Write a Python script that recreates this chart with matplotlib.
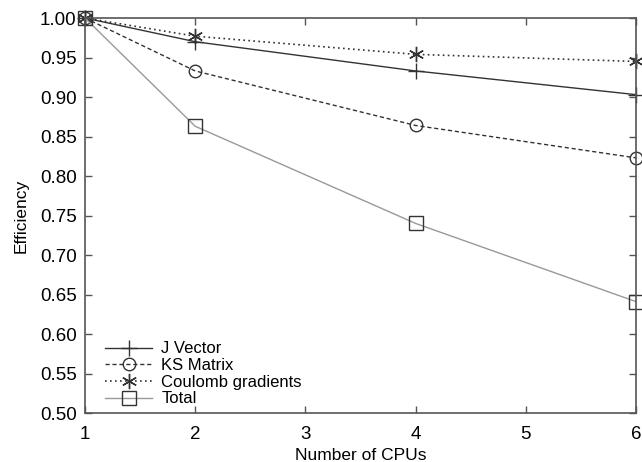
import matplotlib
matplotlib.use("Agg")
import matplotlib.pyplot as plt

plt.rcParams['font.family'] = ['Liberation Sans', 'DejaVu Sans']

cpus = [1, 2, 4, 6]
j_vector = [1.0, 0.970, 0.933, 0.903]
ks_matrix = [1.0, 0.933, 0.864, 0.823]
coulomb = [1.0, 0.977, 0.954, 0.945]
total = [1.0, 0.863, 0.740, 0.641]

x_ticks = [1, 2, 3, 4, 5, 6]
y_ticks = [0.50, 0.55, 0.60, 0.65, 0.70, 0.75, 0.80, 0.85, 0.90, 0.95, 1.00]

fig = plt.figure(figsize=(6.42, 4.62), dpi=100)
ax = fig.add_axes([0.1324, 0.106, 0.8583, 0.855])

dark = '#333333'
ax.plot(cpus, j_vector, color=dark, linestyle='-', linewidth=1.0,
        marker='+', markersize=11, markeredgewidth=1.0, clip_on=False,
        label='J Vector')
ax.plot(cpus, ks_matrix, color=dark, linestyle=(0, (3, 2)), linewidth=1.0,
        marker='o', markersize=9, markerfacecolor='none', markeredgewidth=1.0,
        clip_on=False, label='KS Matrix')
ax.plot(cpus, coulomb, color=dark, linestyle=(0, (1, 2)), linewidth=1.2,
        marker=(6, 2, 0), markersize=11, markeredgewidth=1.0, clip_on=False,
        label='Coulomb gradients')
ax.plot(cpus, total, color='#999999', linestyle='-', linewidth=1.0,
        marker='s', markersize=10, markerfacecolor='none',
        markeredgecolor='#333333', markeredgewidth=1.0, clip_on=False,
        label='Total')

ax.set_xlim(1, 6)
ax.set_ylim(0.5, 1.0)
ax.set_xticks(x_ticks)
ax.set_yticks(y_ticks)
ax.set_yticklabels([f"{v:.2f}" for v in y_ticks])
ax.tick_params(direction='in', top=True, right=True, length=5, width=1,
               color='#555555', labelsize=13.5)
ax.tick_params(axis='x', pad=9)
ax.tick_params(axis='y', pad=6)
for s in ax.spines.values():
    s.set_color('#555555')
    s.set_linewidth(1.2)

ax.set_xlabel('Number of CPUs', fontsize=12.5, labelpad=4)
ax.set_ylabel('Efficiency', fontsize=12.5, labelpad=8)

ax.legend(loc='lower left', frameon=False, fontsize=12, handlelength=2.8,
          labelspacing=0.1, handletextpad=0.55, borderaxespad=0.0,
          bbox_to_anchor=(0.025, 0.0))

fig.savefig('out.png', dpi=100)
